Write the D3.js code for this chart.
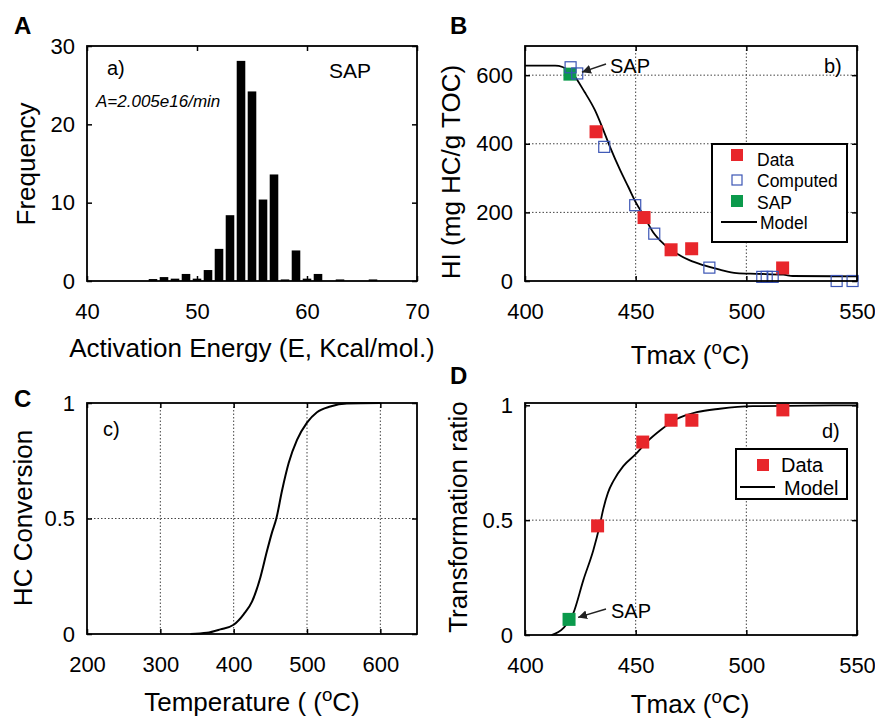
<!DOCTYPE html>
<html>
<head>
<meta charset="utf-8">
<script src="https://cdn.jsdelivr.net/npm/d3@7"></script>
<style>
  body { margin: 0; background: #fff; }
  svg { font-family: "Liberation Sans", Arial, sans-serif; }
  .tick text { font-size: 22px; fill: #000; }
  .tick line { stroke: #000; }
</style>
</head>
<body>
<div id="container"></div>
<script>
/* CONSTANTS AND GLOBALS */
const width = 875;
const height = 718;

/* DATA */
// A - activation energy histogram
const energies = [46, 47, 48, 49, 50, 51, 52, 53, 54, 55, 56, 57, 58, 59, 60, 61, 63, 66];
const frequencies = [0.25, 0.5, 0.3, 0.9, 0.3, 1.4, 4.1, 8.4, 28.1, 24.2, 10.4, 13.6, 0.2, 3.9, 0.3, 0.9, 0.2, 0.2];
const energyTicks = [40, 50, 60, 70];
const freqTicks = [0, 10, 20, 30];

// B - HI vs Tmax
const dataTmaxB = [432.1, 453.8, 466, 475.3, 516.4];
const dataHI = [435, 185, 91, 94, 38];
const compTmax = [420.6, 423.6, 435.8, 449.8, 458.4, 483.3, 507.2, 509.2, 511.9, 540.8, 548];
const compHI = [623, 605, 391, 221, 138, 39, 12, 12, 12, 0, 0];
const sapTmaxB = 420.3;
const sapHI = 603;
const modelTmaxB = [400, 413.6, 420.3, 427, 431.6, 435.4, 438.4, 443, 446.7, 450, 453.5, 457.8, 462.5, 468.5, 474.5, 480.6, 488, 495.6, 504.7, 516.7, 521, 550];
const modelHI = [628, 628, 612, 550, 498, 440, 391, 323, 274, 230, 192, 143, 109, 80, 60, 46, 33, 23, 21, 18.5, 14.6, 13.6];
const tmaxTicks = [400, 450, 500, 550];
const hiTicks = [0, 200, 400, 600];

// C - HC conversion vs temperature
const convTemp = [341, 363.6, 381.8, 400, 413.6, 425, 436.4, 445.5, 452.3, 458.2, 465.9, 475, 486.4, 500, 513.6, 531.8, 554.5, 600];
const convFrac = [0, 0.005, 0.02, 0.04, 0.085, 0.14, 0.245, 0.36, 0.44, 0.5, 0.62, 0.74, 0.84, 0.915, 0.96, 0.985, 0.998, 1];
const tempTicks = [200, 300, 400, 500, 600];
const fracTicks = [0, 0.5, 1];

// D - transformation ratio vs Tmax
const dataTmaxD = [432.8, 453.2, 466, 475.4, 516.5];
const dataTR = [0.475, 0.84, 0.935, 0.935, 0.98];
const sapTmaxD = 419.9;
const sapTR = 0.068;
const modelTmaxD = [412, 417.3, 421.8, 426.4, 430.9, 433.6, 435.4, 437.5, 439.9, 444.4, 450, 455, 461, 468.5, 477.6, 488, 503, 550];
const modelTR = [0, 0.03, 0.094, 0.24, 0.37, 0.47, 0.55, 0.62, 0.67, 0.735, 0.787, 0.84, 0.89, 0.94, 0.97, 0.985, 0.996, 1];

const RED = "#e8262b";
const GREEN = "#0b9a4c";
const BLUE = "#3b55b5";

/* HTML ELEMENTS */
const svg = d3.select("#container")
    .append("svg")
    .attr("width", width)
    .attr("height", height)

svg.append("defs").append("marker")
    .attr("id", "arrow")
    .attr("viewBox", "0 0 10 10")
    .attr("refX", 10).attr("refY", 5)
    .attr("markerWidth", 9).attr("markerHeight", 9)
    .attr("markerUnits", "userSpaceOnUse")
    .attr("orient", "auto")
    .append("path")
    .attr("d", "M0,0 L10,5 L0,10 z")
    .attr("fill", "#222")

// draws inward ticks, tick labels and dotted grid for one panel
function frame(xScale, yScale, xTicks, yTicks, xGrid, yGrid) {
    const [x0, x1] = xScale.range();
    const [y1, y0] = yScale.range();
    const g = svg.append("g");

    // grid
    g.selectAll(".gx").data(xGrid).join("line")
        .attr("x1", d => xScale(d)).attr("x2", d => xScale(d))
        .attr("y1", y0).attr("y2", y1)
        .attr("stroke", "#444").attr("stroke-width", 1).attr("stroke-dasharray", "1.5,2")
    g.selectAll(".gy").data(yGrid).join("line")
        .attr("y1", d => yScale(d)).attr("y2", d => yScale(d))
        .attr("x1", x0).attr("x2", x1)
        .attr("stroke", "#444").attr("stroke-width", 1).attr("stroke-dasharray", "1.5,2")

    // axes
    g.append("g").attr("transform", `translate(0,${y1})`)
        .call(d3.axisBottom(xScale).tickValues(xTicks).tickSize(-5).tickPadding(22).tickFormat(d => d))
        .call(a => a.select(".domain").remove())
    g.append("g").attr("transform", `translate(0,${y0})`)
        .call(d3.axisTop(xScale).tickValues(xTicks).tickSize(-5).tickFormat(""))
        .call(a => a.select(".domain").remove())
    g.append("g").attr("transform", `translate(${x0},0)`)
        .call(d3.axisLeft(yScale).tickValues(yTicks).tickSize(-5).tickPadding(12).tickFormat(d => d))
        .call(a => a.select(".domain").remove())
    g.append("g").attr("transform", `translate(${x1},0)`)
        .call(d3.axisRight(yScale).tickValues(yTicks).tickSize(-5).tickFormat(""))
        .call(a => a.select(".domain").remove())
    g.selectAll(".tick line").attr("stroke-width", 1.5)

    return g;
}

function boxOutline(xScale, yScale) {
    const [x0, x1] = xScale.range();
    const [y1, y0] = yScale.range();
    svg.append("rect")
        .attr("x", x0).attr("y", y0)
        .attr("width", x1 - x0).attr("height", y1 - y0)
        .attr("fill", "none").attr("stroke", "#000").attr("stroke-width", 1.8)
}

function label(x, y, txt, size, opts = {}) {
    return svg.append("text")
        .attr("x", x).attr("y", y)
        .attr("font-size", size)
        .attr("text-anchor", opts.anchor || "start")
        .attr("font-weight", opts.bold ? "bold" : null)
        .attr("font-style", opts.italic ? "italic" : null)
        .attr("transform", opts.rotate ? `rotate(-90,${x},${y})` : null)
        .text(txt)
}

function degLabel(x, y, prefix, size) {
    const t = svg.append("text").attr("x", x).attr("y", y)
        .attr("font-size", size).attr("text-anchor", "middle")
    t.append("tspan").text(prefix + "(")
    t.append("tspan").attr("dy", -10).attr("font-size", size * 0.72).text("o")
    t.append("tspan").attr("dy", 10).text("C)")
}

const sq = (g, xs, ys, xScale, yScale, size, fill, stroke) => {
    g.selectAll(null).data(xs.map((d, i) => [d, ys[i]])).join("rect")
        .attr("x", d => xScale(d[0]) - size / 2)
        .attr("y", d => yScale(d[1]) - size / 2)
        .attr("width", size).attr("height", size)
        .attr("fill", fill)
        .attr("stroke", stroke || "none")
        .attr("stroke-width", stroke ? 1.2 : 0)
}

/* PANEL A */
const xA = d3.scaleLinear().domain([40, 70]).range([87, 417]);
const yA = d3.scaleLinear().domain([0, 30]).range([281, 46]);
const gA = frame(xA, yA, energyTicks, freqTicks, [], []);
gA.selectAll(".bar").data(energies).join("rect")
    .attr("x", (d) => xA(d - 0.39))
    .attr("width", xA(40.78) - xA(40))
    .attr("y", (d, i) => yA(frequencies[i]))
    .attr("height", (d, i) => yA(0) - yA(frequencies[i]))
    .attr("fill", "#000")
boxOutline(xA, yA);
label(107, 75, "a)", 20);
label(329, 78, "SAP", 21);
label(96, 107, "A=2.005e16/min", 17, { italic: true });
label(35, 164, "Frequency", 26, { rotate: true, anchor: "middle" });
label(252, 357, "Activation Energy (E, Kcal/mol.)", 26, { anchor: "middle" });
label(14, 34, "A", 24, { bold: true });

/* PANEL B */
const xB = d3.scaleLinear().domain([400, 550]).range([525, 857]);
const yB = d3.scaleLinear().domain([0, 685]).range([281, 46]);
const gB = frame(xB, yB, tmaxTicks, hiTicks, [450, 500], [200, 400, 600]);
const lineB = d3.line().x(d => xB(d[0])).y(d => yB(d[1])).curve(d3.curveMonotoneX);
gB.append("path")
    .datum(modelTmaxB.map((d, i) => [d, modelHI[i]]))
    .attr("d", lineB).attr("fill", "none").attr("stroke", "#000").attr("stroke-width", 1.8)
sq(gB, dataTmaxB, dataHI, xB, yB, 13, RED);
sq(gB, [sapTmaxB], [sapHI], xB, yB, 13, GREEN);
sq(gB, compTmax, compHI, xB, yB, 11, "none", BLUE);
boxOutline(xB, yB);
svg.append("line")
    .attr("x1", 606).attr("y1", 64).attr("x2", xB(sapTmaxB) + 12).attr("y2", yB(sapHI) - 2)
    .attr("stroke", "#222").attr("stroke-width", 1.5).attr("marker-end", "url(#arrow)")
label(610, 73, "SAP", 20);
label(824, 73, "b)", 20);
// legend B
svg.append("rect").attr("x", 712).attr("y", 144).attr("width", 135).attr("height", 98)
    .attr("fill", "#fff").attr("stroke", "#000").attr("stroke-width", 2)
svg.append("rect").attr("x", 731).attr("y", 149).attr("width", 12).attr("height", 12).attr("fill", RED)
svg.append("rect").attr("x", 732).attr("y", 175).attr("width", 10).attr("height", 10).attr("fill", "none").attr("stroke", BLUE).attr("stroke-width", 1.2)
svg.append("rect").attr("x", 731).attr("y", 195).attr("width", 12).attr("height", 12).attr("fill", GREEN)
svg.append("line").attr("x1", 721).attr("x2", 757).attr("y1", 222).attr("y2", 222).attr("stroke", "#000").attr("stroke-width", 1.8)
label(757, 166, "Data", 17.5);
label(757, 187, "Computed", 17.5);
label(757, 209, "SAP", 17.5);
label(760, 229, "Model", 17.5);
label(460, 172, "HI (mg HC/g TOC)", 26, { rotate: true, anchor: "middle" });
degLabel(690, 364, "Tmax ", 26);
label(450, 34, "B", 24, { bold: true });

/* PANEL C */
const xC = d3.scaleLinear().domain([200, 650]).range([87, 417]);
const yC = d3.scaleLinear().domain([0, 1]).range([634, 403]);
const gC = frame(xC, yC, tempTicks, fracTicks, [300, 400, 500, 600], [0.5]);
gC.append("path")
    .datum(convTemp.map((d, i) => [d, convFrac[i]]))
    .attr("d", d3.line().x(d => xC(d[0])).y(d => yC(d[1])).curve(d3.curveMonotoneX))
    .attr("fill", "none").attr("stroke", "#000").attr("stroke-width", 2)
boxOutline(xC, yC);
label(103, 436, "c)", 20);
label(32, 518, "HC Conversion", 26, { rotate: true, anchor: "middle" });
degLabel(252, 711, "Temperature ( ", 26);
label(14, 407, "C", 24, { bold: true });

/* PANEL D */
const xD = d3.scaleLinear().domain([400, 550]).range([525, 857]);
const yD = d3.scaleLinear().domain([0, 1.01]).range([635, 403]);
const gD = frame(xD, yD, tmaxTicks, fracTicks, [450, 500], [0.5]);
gD.append("path")
    .datum(modelTmaxD.map((d, i) => [d, modelTR[i]]))
    .attr("d", d3.line().x(d => xD(d[0])).y(d => yD(d[1])).curve(d3.curveMonotoneX))
    .attr("fill", "none").attr("stroke", "#000").attr("stroke-width", 1.8)
sq(gD, dataTmaxD, dataTR, xD, yD, 13, RED);
sq(gD, [sapTmaxD], [sapTR], xD, yD, 13, GREEN);
boxOutline(xD, yD);
svg.append("line")
    .attr("x1", 606).attr("y1", 609).attr("x2", xD(sapTmaxD) + 9).attr("y2", yD(sapTR) - 2)
    .attr("stroke", "#222").attr("stroke-width", 1.5).attr("marker-end", "url(#arrow)")
label(611, 618, "SAP", 20);
label(822, 438, "d)", 20);
// legend D
svg.append("rect").attr("x", 736).attr("y", 449).attr("width", 111).attr("height", 50)
    .attr("fill", "#fff").attr("stroke", "#000").attr("stroke-width", 2)
svg.append("rect").attr("x", 757).attr("y", 459).attr("width", 12).attr("height", 12).attr("fill", RED)
svg.append("line").attr("x1", 740).attr("x2", 775).attr("y1", 487).attr("y2", 487).attr("stroke", "#000").attr("stroke-width", 1.8)
label(781, 472, "Data", 20);
label(784, 495, "Model", 20);
label(467, 517, "Transformation ratio", 26, { rotate: true, anchor: "middle" });
degLabel(690, 713, "Tmax ", 26);
label(450, 384, "D", 24, { bold: true });
</script>
</body>
</html>
